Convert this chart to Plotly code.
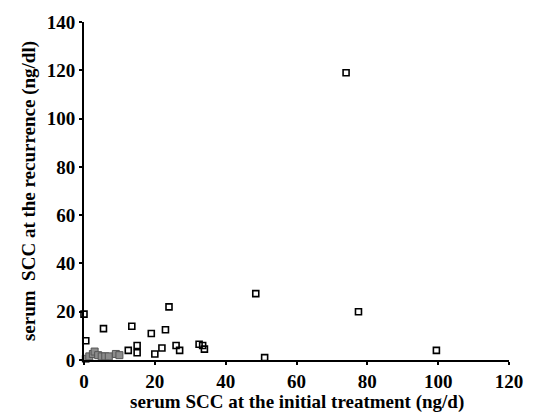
import plotly.graph_objects as go

# hollow squares: serum SCC initial (x) vs recurrence (y)
open_x = [74, 48.5, 77.5, 99.5, 51, 24, 0, 5.5, 13.5, 19, 23, 0.5, 12.5, 15, 15, 20, 22, 26, 27, 32.5, 33.5, 34]
open_y = [119, 27.5, 20, 4, 1, 22, 19, 13, 14, 11, 12.5, 8, 4, 6, 3, 2.5, 5, 6, 4, 6.5, 6, 4.5]

# gray filled markers (cluster near origin)
gray_x = [0.5, 1.5, 2.5, 3, 4, 5, 6, 7, 9, 10]
gray_y = [0.5, 1.5, 2.5, 3.5, 2, 1.5, 1.5, 1.5, 2.5, 2]

x_ticks = [0, 20, 40, 60, 80, 100, 120]
y_ticks = [0, 20, 40, 60, 80, 100, 120, 140]

x_title = "serum SCC at the initial treatment (ng/d)"
y_title = "serum  SCC at the recurrence (ng/dl)"

font_family = "Liberation Serif"

fig = go.Figure()
fig.add_trace(go.Scatter(
    x=gray_x, y=gray_y, mode="markers",
    marker=dict(symbol="square", size=7, color="#8c8c8c",
                line=dict(color="#555555", width=1)),
    cliponaxis=False, showlegend=False))
fig.add_trace(go.Scatter(
    x=open_x, y=open_y, mode="markers",
    marker=dict(symbol="square-open", size=6, color="black",
                line=dict(color="black", width=1.6)),
    cliponaxis=False, showlegend=False))

fig.add_annotation(
    text=x_title, xref="paper", yref="paper", x=0.5, y=-0.124,
    xanchor="center", yanchor="middle", showarrow=False,
    font=dict(family=font_family, size=19, color="black", weight="bold"))

fig.update_layout(
    width=535, height=417,
    margin=dict(l=84, r=16, t=22, b=57),
    paper_bgcolor="white", plot_bgcolor="white",
    font=dict(family=font_family, color="black"),
    xaxis=dict(
        range=[0, 120], tickvals=x_ticks, ticktext=[str(v) for v in x_ticks],
        showgrid=False, zeroline=False, showline=True, linecolor="black", linewidth=2,
        ticks="outside", ticklen=3, tickwidth=2, tickcolor="black",
        tickfont=dict(family=font_family, size=19, color="black", weight="bold"),
    ),
    yaxis=dict(
        range=[0, 140], tickvals=y_ticks, ticktext=[str(v) for v in y_ticks],
        showgrid=False, zeroline=False, showline=True, linecolor="black", linewidth=2,
        ticks="outside", ticklen=3, tickwidth=2, tickcolor="black",
        tickfont=dict(family=font_family, size=19, color="black", weight="bold"),
        title=dict(text=y_title,
                   font=dict(family=font_family, size=19, color="black", weight="bold"),
                   standoff=6),
    ),
)

fig.write_html("out.html",
               config={"displayModeBar": False},
               post_script="document.body.style.margin='0px';document.body.style.overflow='hidden';")
